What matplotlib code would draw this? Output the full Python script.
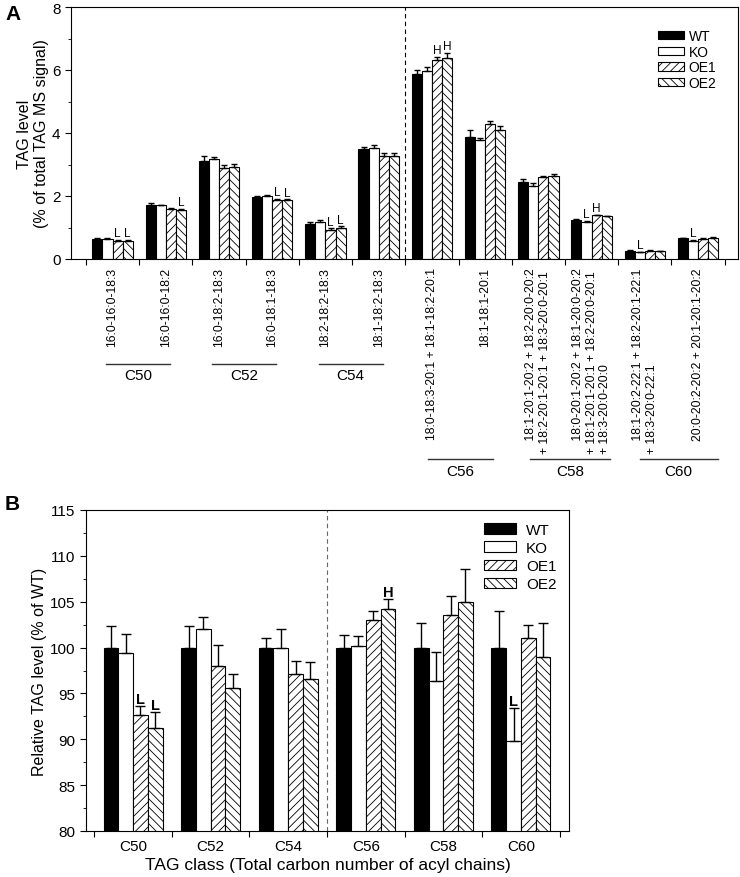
import matplotlib
matplotlib.use('Agg')
import matplotlib.pyplot as plt
import matplotlib.transforms as mtransforms
import numpy as np

plt.rcParams['font.family'] = ['Liberation Sans', 'DejaVu Sans']
plt.rcParams['hatch.linewidth'] = 0.6

series = ['WT', 'KO', 'OE1', 'OE2']

# panel A: individual TAG species
species = [
    '16:0-16:0-18:3',
    '16:0-16:0-18:2',
    '16:0-18:2-18:3',
    '16:0-18:1-18:3',
    '18:2-18:2-18:3',
    '18:1-18:2-18:3',
    '18:0-18:3-20:1 + 18:1-18:2-20:1',
    '18:1-18:1-20:1',
    '    18:1-20:1-20:2 + 18:2-20:0-20:2\n+ 18:2-20:1-20:1 + 18:3-20:0-20:1',
    '    18:0-20:1-20:2 + 18:1-20:0-20:2\n+ 18:1-20:1-20:1 + 18:2-20:0-20:1\n+ 18:3-20:0-20:0',
    '    18:1-20:2-22:1 + 18:2-20:1-22:1\n+ 18:3-20:0-22:1',
    '20:0-20:2-20:2 + 20:1-20:1-20:2',
]
wt_a = [0.65, 1.72, 3.10, 1.96, 1.11, 3.48, 5.88, 3.86, 2.46, 1.25, 0.26, 0.66]
ko_a = [0.65, 1.70, 3.16, 2.01, 1.19, 3.52, 5.98, 3.77, 2.33, 1.18, 0.21, 0.58]
oe1_a = [0.58, 1.60, 2.89, 1.87, 0.93, 3.28, 6.32, 4.27, 2.60, 1.40, 0.26, 0.64]
oe2_a = [0.58, 1.57, 2.91, 1.87, 1.00, 3.28, 6.38, 4.11, 2.64, 1.36, 0.25, 0.68]
wt_a_err = [0.02, 0.06, 0.16, 0.03, 0.06, 0.06, 0.12, 0.22, 0.08, 0.02, 0.02, 0.02]
ko_a_err = [0.01, 0.03, 0.07, 0.02, 0.06, 0.10, 0.10, 0.08, 0.07, 0.03, 0.01, 0.02]
oe1_a_err = [0.02, 0.03, 0.10, 0.04, 0.04, 0.10, 0.10, 0.12, 0.05, 0.01, 0.01, 0.02]
oe2_a_err = [0.02, 0.03, 0.10, 0.03, 0.04, 0.10, 0.16, 0.12, 0.06, 0.02, 0.01, 0.03]
wt_a_sig = [''] * 12
ko_a_sig = ['', '', '', '', '', '', '', '', '', 'L', 'L', 'L']
oe1_a_sig = ['L', '', '', 'L', 'L', '', 'H', '', '', 'H', '', '']
oe2_a_sig = ['L', 'L', '', 'L', 'L', '', 'H', '', '', '', '', '']
class_groups_a = [('C50', 0, 1), ('C52', 2, 3), ('C54', 4, 5),
                  ('C56', 6, 7), ('C58', 8, 9), ('C60', 10, 11)]

# panel B: TAG classes relative to WT
classes = ['C50', 'C52', 'C54', 'C56', 'C58', 'C60']
wt_b = [100, 100, 100, 100, 100, 100]
ko_b = [99.4, 102.0, 100.0, 100.2, 96.4, 89.8]
oe1_b = [92.6, 98.0, 97.1, 103.0, 103.5, 101.0]
oe2_b = [91.2, 95.6, 96.6, 104.2, 105.0, 99.0]
wt_b_err = [2.3, 2.3, 1.0, 1.4, 2.7, 4.0]
ko_b_err = [2.1, 1.3, 2.0, 1.1, 3.1, 3.6]
oe1_b_err = [1.0, 2.3, 1.4, 1.0, 2.1, 1.5]
oe2_b_err = [1.8, 1.5, 1.8, 1.1, 3.6, 3.7]
wt_b_sig = [''] * 6
ko_b_sig = ['', '', '', '', '', 'L']
oe1_b_sig = ['L', '', '', '', '', '']
oe2_b_sig = ['L', '', '', 'H', '', '']

styles = [dict(color='black', hatch=None),
          dict(color='white', hatch=None),
          dict(color='white', hatch='////'),
          dict(color='white', hatch='\\\\\\\\')]


def draw_bars(ax, vals, errs, sigs, width, capsize, sig_kw, sig_pad):
    x = np.arange(len(vals[0]))
    offs = (np.arange(4) - 1.5) * width
    for k in range(4):
        ax.bar(x + offs[k], vals[k], width, color=styles[k]['color'],
               hatch=styles[k]['hatch'], edgecolor='black', linewidth=0.8,
               label=series[k], zorder=2)
        ax.errorbar(x + offs[k], vals[k], yerr=[np.zeros(len(x)), errs[k]],
                    fmt='none', ecolor='black', elinewidth=1, capsize=capsize,
                    capthick=1, zorder=3)
        for i in range(len(x)):
            if sigs[k][i]:
                ax.text(x[i] + offs[k], vals[k][i] + errs[k][i] + sig_pad,
                        sigs[k][i], ha='center', va='bottom', **sig_kw)


fig = plt.figure(figsize=(7.4, 8.78), dpi=100)

# ---------- panel A ----------
axA = fig.add_axes([71 / 740, 1 - 260 / 878, 667 / 740, 252 / 878])
draw_bars(axA, [wt_a, ko_a, oe1_a, oe2_a],
          [wt_a_err, ko_a_err, oe1_a_err, oe2_a_err],
          [wt_a_sig, ko_a_sig, oe1_a_sig, oe2_a_sig],
          0.19, 2.5, dict(fontsize=8.5), 0.02)
axA.set_xlim(-0.78, 11.75)
axA.set_ylim(0, 8)
axA.set_yticks([0, 2, 4, 6, 8])
axA.set_yticks([1, 3, 5, 7], minor=True)
axA.set_xticks(np.arange(13) - 0.5)
axA.set_xticklabels([])
axA.set_xticks(np.arange(12), minor=True)
axA.set_xticklabels(species, minor=True, rotation=90, va='top', ha='center',
                    multialignment='left', fontsize=8.8)
axA.tick_params(axis='x', which='minor', length=0, pad=6)
axA.tick_params(axis='both', which='major', direction='out', length=4,
                labelsize=11)
axA.tick_params(axis='y', which='minor', direction='out', length=2.5)
axA.axvline(5.5, color='black', linestyle='--', linewidth=0.8, dashes=(4, 3))
axA.set_ylabel('TAG level\n(% of total TAG MS signal)', fontsize=11.5, labelpad=2)
axA.legend(loc='upper left', bbox_to_anchor=(658 / 740, 1 - 30 / 878),
           bbox_transform=fig.transFigure, frameon=False, borderpad=0,
           borderaxespad=0, fontsize=10, handlelength=1.9, handleheight=0.55,
           labelspacing=0.12, handletextpad=0.3)

trans = mtransforms.blended_transform_factory(axA.transData, fig.transFigure)
line_span = {'C50': (-0.13, 0.08), 'C52': (-0.13, 0.08), 'C54': (-0.13, 0.08),
             'C56': (-0.07, 0.14), 'C58': (-0.15, 0.34), 'C60': (-0.10, 0.37)}
for name, g0, g1 in class_groups_a:
    lo, hi = line_span[name]
    if g0 < 6:
        ly, ty = 1 - 365 / 878, 1 - 369 / 878
    else:
        ly, ty = 1 - 460 / 878, 1 - 465 / 878
    axA.plot([g0 + lo, g1 + hi], [ly, ly], transform=trans, color='#333333',
             linewidth=1, clip_on=False)
    axA.text((g0 + lo + g1 + hi) / 2, ty, name, transform=trans,
             ha='center', va='top', fontsize=11)

fig.text(5 / 740, 1 - 15 / 878, 'A', fontsize=15, fontweight='bold',
         ha='left', va='center')

# ---------- panel B ----------
axB = fig.add_axes([86 / 740, 1 - 832 / 878, 483 / 740, 321 / 878])
draw_bars(axB, [wt_b, ko_b, oe1_b, oe2_b],
          [wt_b_err, ko_b_err, oe1_b_err, oe2_b_err],
          [wt_b_sig, ko_b_sig, oe1_b_sig, oe2_b_sig],
          0.19, 3.5, dict(fontsize=10.5, fontweight='bold'), 0.0)
axB.set_xlim(-0.607, 5.62)
axB.set_ylim(80, 115)
axB.set_yticks(np.arange(80, 116, 5))
axB.set_yticks(np.arange(82.5, 115, 5), minor=True)
axB.set_xticks(np.arange(7) - 0.5)
axB.set_xticklabels([])
axB.set_xticks(np.arange(6), minor=True)
axB.set_xticklabels(classes, minor=True, fontsize=11)
axB.tick_params(axis='x', which='minor', length=0, pad=6)
axB.tick_params(axis='both', which='major', direction='out', length=4,
                labelsize=11)
axB.tick_params(axis='y', which='minor', direction='out', length=2.5)
axB.axvline(2.5, color='#666666', linestyle='--', linewidth=0.8, dashes=(4, 3))
axB.set_ylabel('Relative TAG level (% of WT)', fontsize=11.5, labelpad=2)
axB.set_xlabel('TAG class (Total carbon number of acyl chains)', fontsize=12.5,
               labelpad=3)
axB.legend(loc='upper left', bbox_to_anchor=(484 / 740, 1 - 524 / 878),
           bbox_transform=fig.transFigure, frameon=False, borderpad=0,
           borderaxespad=0, fontsize=11, handlelength=2.1, handleheight=0.7,
           labelspacing=0.27, handletextpad=0.65)

fig.text(5 / 740, 1 - 505 / 878, 'B', fontsize=15, fontweight='bold',
         ha='left', va='center')

fig.savefig('out.png', dpi=100)
